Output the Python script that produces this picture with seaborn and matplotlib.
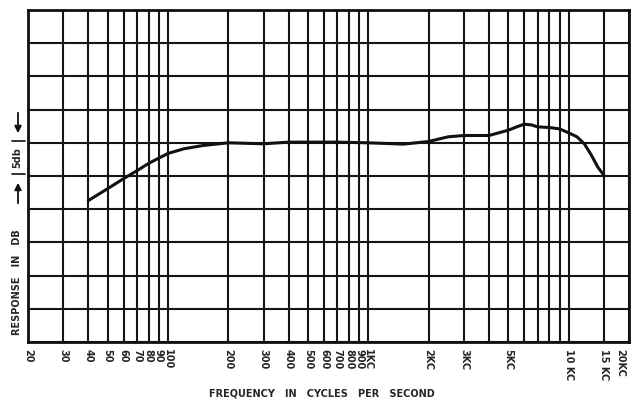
import numpy as np
import pandas as pd
import seaborn as sns
import matplotlib.pyplot as plt
from matplotlib.transforms import ScaledTranslation

# 주파수 응답 곡선 (값은 그림에서 읽음)
freq_hz = [40, 50, 60, 70, 80, 100, 120, 150, 200, 300, 400, 500, 700, 1000,
           1500, 2000, 2500, 3000, 4000, 5000, 5500, 6000, 6500, 7000, 8000,
           9000, 10000, 11000, 12000, 13000, 14000, 15000]
response_db = [21.3, 23.1, 24.6, 25.8, 26.9, 28.4, 29.1, 29.6, 30.0, 29.85,
               30.1, 30.1, 30.1, 30.0, 29.8, 30.2, 30.9, 31.1, 31.1, 31.9,
               32.4, 32.8, 32.7, 32.4, 32.3, 32.1, 31.5, 30.9, 29.8, 28.1,
               26.3, 25.1]

grid_freqs = [20, 30, 40, 50, 60, 70, 80, 90, 100, 200, 300, 400, 500, 600,
              700, 800, 900, 1000, 2000, 3000, 4000, 5000, 6000, 7000, 8000,
              9000, 10000, 15000, 20000]
grid_labels = ["20", "30", "40", "50", "60", "70", "80", "90", "100", "200",
               "300", "400", "500", "600", "700", "800", "900", "1KC", "2KC",
               "3KC", "", "5KC", "", "", "", "", "10 KC", "15 KC", "20KC"]

W, H = 634, 405


def px(x, y):
    return (x / W, 1 - y / H)


sns.set_style("white")
plt.rcParams["font.family"] = ["DejaVu Sans"]

fig = plt.figure(figsize=(W / 100, H / 100), dpi=100)
ax = fig.add_axes([28 / W, 1 - 342 / H, (629 - 28) / W, (342 - 10) / H])

df = pd.DataFrame({"freq": freq_hz, "db": response_db})
sns.lineplot(data=df, x="freq", y="db", ax=ax, color="#111111", lw=2.2)

ax.set_xscale("log")
ax.set_xlim(20, 20000)
ax.set_ylim(0, 50)
ax.set_xticks(grid_freqs)
ax.set_xticklabels(grid_labels, rotation=270, fontsize=7, fontweight="bold",
                   va="top", ha="center")
ax.xaxis.set_minor_locator(plt.NullLocator())
ax.set_yticks(np.arange(0, 51, 5))
ax.set_yticklabels([])
ax.tick_params(length=0, pad=5)
ax.grid(True, color="#151515", lw=1.5)
for s in ax.spines.values():
    s.set_color("#111111")
    s.set_linewidth(2)
ax.set_xlabel("")
ax.set_ylabel("")

# 20KC 라벨이 잘리지 않게 왼쪽으로 조금 이동
last = ax.get_xticklabels()[-1]
last.set_transform(last.get_transform() + ScaledTranslation(-6 / 72, 0, fig.dpi_scale_trans))

fig.text(*px(322, 393), "FREQUENCY   IN   CYCLES   PER   SECOND",
         ha="center", va="center", fontsize=7, fontweight="bold")
fig.text(*px(17, 282), "RESPONSE   IN   DB", rotation=90,
         ha="center", va="center", fontsize=7, fontweight="bold")
fig.text(*px(17, 158), "5db", rotation=90,
         ha="center", va="center", fontsize=7, fontweight="bold")

# 5db 표시 화살표
ax.annotate("", xy=px(18, 136), xytext=px(18, 110), xycoords="figure fraction",
            arrowprops=dict(arrowstyle="-|>", color="#111111", lw=1.3))
ax.annotate("", xy=px(18, 180), xytext=px(18, 206), xycoords="figure fraction",
            arrowprops=dict(arrowstyle="-|>", color="#111111", lw=1.3))
for yy in (141, 174):
    fig.lines.append(plt.Line2D([12 / W, 25 / W], [1 - yy / H] * 2,
                                transform=fig.transFigure, color="#111111", lw=1.2))

fig.savefig("out.png", dpi=100, facecolor="white")
